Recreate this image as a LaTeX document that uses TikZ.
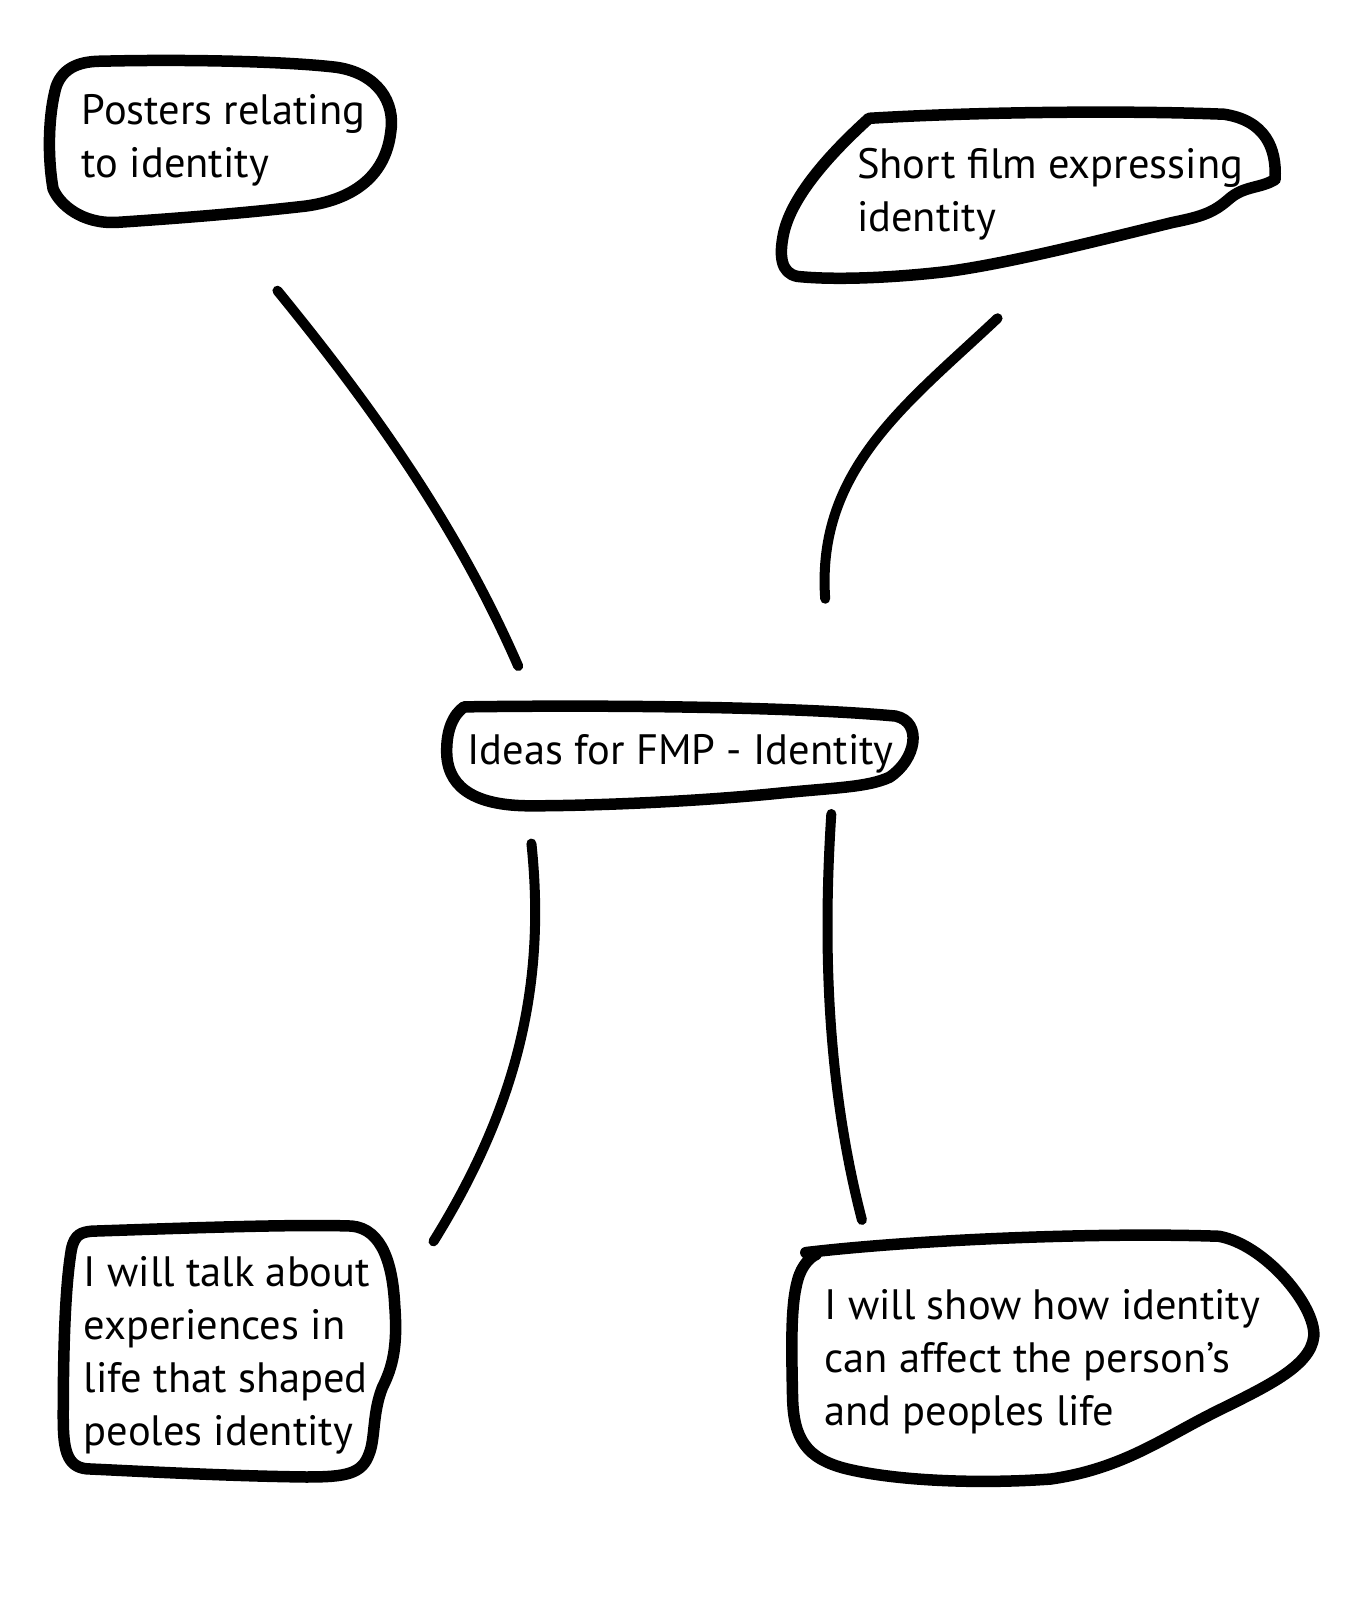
\documentclass[tikz,border=0pt]{standalone}
\usepackage{fontspec}
\setmainfont{PT Sans}
\begin{document}
\begin{tikzpicture}[x=1.02pt,y=-1.02pt,
  blob/.style={line width=11.5pt,line join=round,line cap=round},
  link/.style={line width=10pt,line cap=round},
  lbl/.style={inner sep=0pt,align=left,anchor=west,font=\fontsize{42.5}{53}\selectfont}]
\useasboundingbox (0,0) rectangle (1344.1,1568.6);
\fill[white] (0,0) rectangle (1344.1,1568.6);

% blobs
\draw[blob] (100,60) .. controls (180,58) and (280,60) .. (330,66)
  .. controls (370,72) and (388,100) .. (383,130)
  .. controls (378,170) and (350,195) .. (300,202)
  .. controls (230,210) and (160,215) .. (115,218)
  .. controls (80,220) and (58,200) .. (52,185)
  .. controls (46,150) and (48,110) .. (55,85)
  .. controls (62,65) and (80,60) .. (100,60) -- cycle;

\draw[blob] (852,116) .. controls (950,110) and (1100,108) .. (1200,112)
  .. controls (1240,118) and (1252,145) .. (1250,176)
  .. controls (1235,185) and (1220,182) .. (1205,195)
  .. controls (1190,208) and (1180,212) .. (1150,218)
  .. controls (1080,235) and (990,258) .. (930,266)
  .. controls (880,272) and (820,275) .. (782,271)
  .. controls (765,268) and (764,250) .. (768,230)
  .. controls (776,190) and (820,145) .. (852,116) -- cycle;

\draw[blob] (455,693) .. controls (600,691) and (780,693) .. (878,702)
  .. controls (905,708) and (898,745) .. (872,762)
  .. controls (850,772) and (820,772) .. (760,778)
  .. controls (680,786) and (580,790) .. (520,790)
  .. controls (470,790) and (440,775) .. (438,740)
  .. controls (437,715) and (445,700) .. (455,693) -- cycle;

\draw[blob] (90,1207) .. controls (180,1204) and (290,1200) .. (345,1202)
  .. controls (375,1205) and (385,1240) .. (387,1280)
  .. controls (390,1320) and (385,1340) .. (375,1360)
  .. controls (365,1385) and (368,1410) .. (362,1425)
  .. controls (355,1445) and (340,1448) .. (300,1448)
  .. controls (220,1447) and (130,1442) .. (85,1440)
  .. controls (65,1438) and (62,1420) .. (62,1390)
  .. controls (62,1320) and (64,1260) .. (70,1225)
  .. controls (73,1210) and (80,1208) .. (90,1207) -- cycle;

\draw[blob] (790,1228) .. controls (900,1215) and (1080,1208) .. (1195,1212)
  .. controls (1240,1220) and (1290,1280) .. (1288,1310)
  .. controls (1285,1340) and (1240,1360) .. (1190,1385)
  .. controls (1140,1410) and (1100,1440) .. (1030,1450)
  .. controls (960,1455) and (880,1452) .. (830,1440)
  .. controls (790,1430) and (778,1410) .. (777,1370)
  .. controls (776,1320) and (775,1280) .. (782,1255)
  .. controls (786,1240) and (795,1232) .. (800,1230);

% labels
\node[lbl] (posters) at (80,138) {Posters relating\\to identity};
\node[lbl] (film) at (840,190) {Short film expressing\\identity};
\node[lbl] (ideas) at (458,739) {Ideas for FMP - Identity};
\node[lbl] (talk) at (82,1329) {I will talk about\\experiences in\\life that shaped\\peoles identity};
\node[lbl] (show) at (808,1335) {I will show how identity\\can affect the person’s\\and peoples life};

% connector end points
\coordinate (a1) at (272,285); \coordinate (a2) at (508,653);
\coordinate (b1) at (978,312); \coordinate (b2) at (809,587);
\coordinate (c1) at (521,827); \coordinate (c2) at (425,1217);
\coordinate (d1) at (815,798); \coordinate (d2) at (845,1196);

\draw[link] (a1) .. controls (370,405) and (450,520) .. (a2);
\draw[link] (b1) .. controls (890,395) and (800,460) .. (b2);
\draw[link] (c1) .. controls (535,960) and (510,1080) .. (c2);
\draw[link] (d1) .. controls (805,950) and (815,1080) .. (d2);
\end{tikzpicture}
\end{document}
